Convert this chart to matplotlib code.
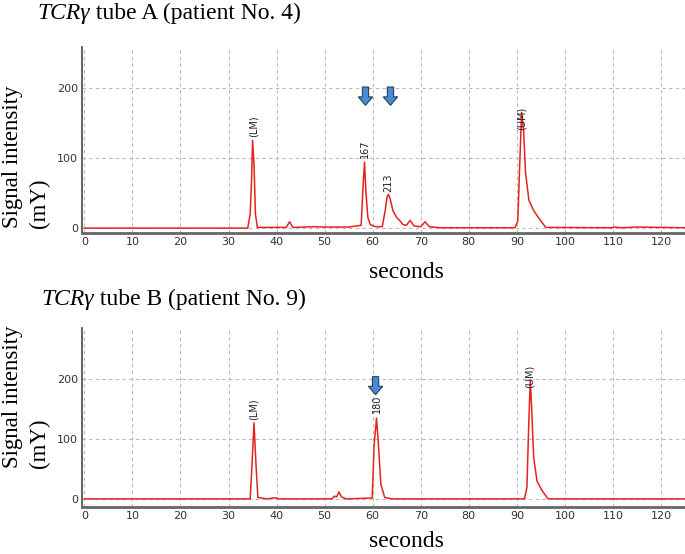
import matplotlib.pyplot as plt

# tube A trace (seconds, mY)
a_x = [0, 34.0, 34.5, 34.8, 35.0, 35.3, 35.6, 36.0, 38, 42.0, 42.7, 43.4, 46, 48, 50, 55,
       57.6, 58.0, 58.3, 58.6, 59.0, 59.5, 60.5, 62.0, 62.6, 63.0, 63.3, 63.7, 64.2, 65.0,
       65.6, 66.3, 67.0, 67.8, 68.6, 70.0, 70.9, 71.8, 74, 89.6, 90.2, 90.6, 91.0, 91.4,
       91.8, 92.5, 93.5, 94.5, 96.0, 110, 110.2, 112, 115, 125]
a_y = [0, 0, 20, 70, 125, 90, 20, 1, 1, 1, 9, 1, 1.5, 2, 1.5, 1.5,
       4, 60, 94, 50, 15, 5, 2, 2, 25, 45, 48, 40, 25, 15,
       11, 5, 4, 11, 3, 2, 9, 2, 0.5, 0.5, 10, 90, 165, 140,
       80, 40, 25, 15, 1, 0.5, 1.5, 0.5, 1.5, 0.5]

# tube B trace
b_x = [0, 34.5, 34.9, 35.3, 35.7, 36.1, 38, 39.3, 40.0, 40.5, 51.5, 52.0, 52.5, 53.0, 53.5,
       54.5, 59.9, 60.3, 60.8, 61.2, 61.7, 62.5, 64, 91.6, 92.1, 92.5, 92.8, 93.1, 93.5,
       94.2, 95.2, 96.5, 125]
b_y = [0.5, 0.5, 60, 127, 60, 3, 0.5, 2, 2, 0.5, 0.5, 5, 4, 12, 4,
       0.5, 2, 90, 135, 90, 25, 3, 0.5, 0.5, 20, 130, 198, 150, 70,
       30, 15, 0.5, 0.5]

a_peaks = [(35.2, 130, "(LM)"), (58.3, 100, "167"), (63.3, 52, "213"), (91.0, 140, "(UM)")]
b_peaks = [(35.3, 132, "(LM)"), (60.8, 143, "180"), (92.7, 185, "(UM)")]
a_arrows = [58.5, 63.7]
b_arrows = [60.6]

x_ticks = list(range(0, 130, 10))
y_ticks = [0, 100, 200]

RED = "#e5231f"
TICK_FONT = ["Liberation Sans Narrow", "DejaVu Sans"]
SERIF = "Liberation Serif"


def draw_panel(ax, xs, ys, peaks, arrows, ylim, arrow_top, arrow_len, head_len):
    ax.plot(xs, ys, color=RED, lw=1.1, solid_joinstyle="round")
    ax.set_xlim(-0.5, 125)
    ax.set_ylim(*ylim)
    ax.set_xticks(x_ticks)
    ax.set_yticks(y_ticks)
    ax.grid(True, color="#b8b8b8", linestyle=(0, (3, 3)), lw=0.8)
    ax.set_axisbelow(True)
    for side in ["top", "right"]:
        ax.spines[side].set_visible(False)
    ax.spines["left"].set_color("#555555")
    ax.spines["left"].set_linewidth(1.3)
    ax.spines["bottom"].set_color("#666666")
    ax.spines["bottom"].set_linewidth(2.0)
    ax.tick_params(length=0, labelsize=8, colors="#333333", pad=3)
    for lab in ax.get_xticklabels() + ax.get_yticklabels():
        lab.set_family(TICK_FONT)
    for px, py, txt in peaks:
        ax.text(px, py, txt, rotation=90, ha="center", va="bottom", fontsize=7,
                family=TICK_FONT, color="#222222")
    for ax_x in arrows:
        ax.arrow(ax_x, arrow_top, 0, -arrow_len, width=1.3, head_width=3.0,
                 head_length=head_len, length_includes_head=True,
                 facecolor="#4a8ad0", edgecolor="#23405e", lw=0.8)


def panel_title(fig, x, y, rest):
    # italic gene name, then the plain remainder right after it
    t = fig.text(x, y, "TCRγ", fontsize=17, family=SERIF, style="italic", va="top", ha="left")
    bb = t.get_window_extent(renderer=fig.canvas.get_renderer())
    x2 = bb.x1 / fig.bbox.width
    fig.text(x2, y, " " + rest, fontsize=17, family=SERIF, va="top", ha="left")


fig = plt.figure(figsize=(6.85, 5.54), dpi=100)
ax1 = fig.add_axes([0.1197, 0.5794, 0.8803, 0.3357])
ax2 = fig.add_axes([0.1197, 0.0848, 0.8803, 0.3231])

draw_panel(ax1, a_x, a_y, a_peaks, a_arrows, (-7, 258), 201, 26, 12)
draw_panel(ax2, b_x, b_y, b_peaks, b_arrows, (-13, 285), 204, 30, 14)

panel_title(fig, 0.055, 0.995, "tube A (patient No. 4)")
panel_title(fig, 0.061, 0.478, "tube B (patient No. 9)")

for yb in [1 - 228 / 554, 1 - 468 / 554]:
    fig.text(0.018, yb, "Signal intensity", rotation=90, fontsize=16.5, family=SERIF,
             ha="center", va="bottom")
    fig.text(0.058, yb, "(mY)", rotation=90, fontsize=16.5, family=SERIF,
             ha="center", va="bottom")
fig.text(0.594, 0.509, "seconds", fontsize=17, family=SERIF, ha="center", va="center")
fig.text(0.594, 0.004, "seconds", fontsize=17, family=SERIF, ha="center", va="bottom")

fig.savefig("out.png", dpi=100)
